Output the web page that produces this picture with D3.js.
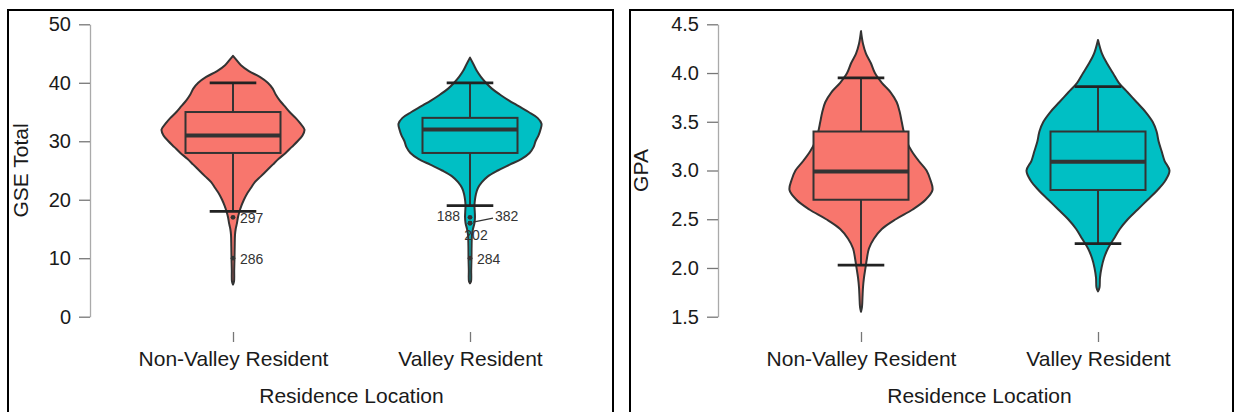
<!DOCTYPE html>
<html>
<head>
<meta charset="utf-8">
<script src="https://cdn.jsdelivr.net/npm/d3@7"></script>
<style>
  html, body { margin: 0; padding: 0; background: #fff; }
  svg { display: block; font-family: "Liberation Sans", Arial, Helvetica, sans-serif; }
</style>
</head>
<body>
<svg id="chart" width="1236" height="412"></svg>
<script>
// ---------------- DATA ----------------
const categories = ["Non-Valley Resident", "Valley Resident"];
const groupColors = ["#F8766D", "#00BFC4"];
const xTitle = "Residence Location";

// GSE Total panel
const gseTitle = "GSE Total";
const gseTicks = [0, 10, 20, 30, 40, 50];
const gseQ1 = [28, 28];
const gseMedian = [31, 32];
const gseQ3 = [35, 34];
const gseWhiskerLow = [18, 19];
const gseWhiskerHigh = [40, 40];
// violin density profiles (value, relative density)
const gseNonValleyVals = [5.5, 6, 8, 10, 12, 14, 15, 16, 17, 18, 19, 20, 21, 22, 23, 24, 25, 26, 27, 28, 29, 30, 31, 32, 33, 34, 35, 36, 37, 38, 39, 40, 41, 42, 43, 44, 44.6];
const gseNonValleyDens = [0, 1, 1.2, 1.5, 1.7, 2, 2.7, 4, 5, 6.5, 8.5, 11, 14, 18, 22, 28, 34, 40, 46, 53, 59, 65, 70, 72, 68, 63, 57, 52, 47, 43, 40, 35, 27, 16, 8, 3, 0];
const gseValleyVals = [5.7, 6, 8, 10, 12, 14, 15, 16, 17, 18, 19, 20, 21, 22, 23, 24, 25, 26, 27, 28, 29, 30, 31, 32, 33, 34, 35, 36, 37, 38, 39, 40, 41, 42, 43, 44.3];
const gseValleyDens = [0, 1, 1.2, 1.5, 1.6, 2, 3, 4.5, 5, 4.8, 4.5, 5, 6, 8, 12, 18, 28, 40, 52, 60, 64, 66, 69, 71, 72, 68, 59, 49, 39, 30, 22, 16, 11, 7, 4, 0];
// labelled outliers
const gseOutlierIds = ["297", "286", "188", "382", "202", "284"];
const gseOutlierVals = [17, 10, 17, 16, 16, 10];
const gseOutlierGroup = [0, 0, 1, 1, 1, 1];

// GPA panel
const gpaTitle = "GPA";
const gpaTicks = [1.5, 2.0, 2.5, 3.0, 3.5, 4.0, 4.5];
const gpaQ1 = [2.7, 2.8];
const gpaMedian = [2.99, 3.09];
const gpaQ3 = [3.4, 3.4];
const gpaWhiskerLow = [2.03, 2.25];
const gpaWhiskerHigh = [3.95, 3.86];
const gpaNonValleyVals = [1.55, 1.6, 1.7, 1.8, 1.9, 2.0, 2.1, 2.2, 2.3, 2.4, 2.5, 2.6, 2.7, 2.8, 2.9, 3.0, 3.1, 3.2, 3.3, 3.4, 3.5, 3.6, 3.7, 3.8, 3.9, 4.0, 4.1, 4.2, 4.3, 4.43];
const gpaNonValleyDens = [0, 1, 1.5, 2, 3, 4.5, 6, 8, 13, 21, 35, 52, 65, 72, 70, 66, 58, 51, 46, 43, 41, 39, 36, 30, 21, 14, 10, 5, 2, 0];
const gpaValleyVals = [1.76, 1.8, 1.9, 2.0, 2.1, 2.2, 2.3, 2.4, 2.5, 2.6, 2.7, 2.8, 2.9, 3.0, 3.1, 3.2, 3.3, 3.4, 3.5, 3.6, 3.7, 3.8, 3.9, 4.0, 4.1, 4.2, 4.34];
const gpaValleyDens = [0, 1.5, 2, 3.5, 6, 10, 16, 22, 30, 40, 50, 60, 68, 72, 67, 64, 61, 59, 55, 48, 39, 30, 21, 15, 9, 4, 0];

// ---------------- LAYOUT ----------------
const svg = d3.select("#chart");
svg.append("rect").attr("width", 1236).attr("height", 412).attr("fill", "#fff");

const plotTop = 24.3, plotBottom = 316.7;
const violinHalf = 71.5, boxHalf = 47.5, capHalf = 23.3;
const stroke = "#333";

// outlier label placement (offsets from the point, px)
const labelLayout = {
  "297": {dx: 7, dy: 1, anchor: "start"},
  "286": {dx: 7, dy: 1, anchor: "start"},
  "188": {dx: -10, dy: -1, anchor: "end"},
  "382": {dx: 25, dy: -7, anchor: "start", leader: [3, -1, 23, -5]},
  "202": {dx: 6, dy: 12, anchor: "middle"},
  "284": {dx: 7, dy: 1, anchor: "start"}
};

const panels = [
  {
    frame: [8, 10, 605], axisX: 90, title: gseTitle, titleX: 27.5,
    ticks: gseTicks, domain: [0, 50], fmt: d3.format("d"),
    q1: gseQ1, med: gseMedian, q3: gseQ3, lo: gseWhiskerLow, hi: gseWhiskerHigh,
    violins: [[gseNonValleyVals, gseNonValleyDens], [gseValleyVals, gseValleyDens]],
    outliers: gseOutlierIds.map((id, i) => ({id, v: gseOutlierVals[i], g: gseOutlierGroup[i]}))
  },
  {
    frame: [630, 10, 603], axisX: 718, title: gpaTitle, titleX: 648,
    ticks: gpaTicks, domain: [1.5, 4.5], fmt: d3.format(".1f"),
    q1: gpaQ1, med: gpaMedian, q3: gpaQ3, lo: gpaWhiskerLow, hi: gpaWhiskerHigh,
    violins: [[gpaNonValleyVals, gpaNonValleyDens], [gpaValleyVals, gpaValleyDens]],
    outliers: []
  }
];

panels.forEach(p => {
  const g = svg.append("g");
  // frame
  g.append("rect")
    .attr("x", p.frame[0]).attr("y", p.frame[1])
    .attr("width", p.frame[2]).attr("height", 430)
    .attr("fill", "none").attr("stroke", "#000").attr("stroke-width", 2);

  const y = d3.scaleLinear().domain(p.domain).range([plotBottom, plotTop]);
  const x = d3.scalePoint().domain(categories).range([p.axisX + 143, p.axisX + 380]);

  // y axis
  const ya = g.append("g").attr("transform", `translate(${p.axisX},0)`)
    .call(d3.axisLeft(y).tickValues(p.ticks).tickFormat(p.fmt).tickSize(11).tickSizeOuter(0).tickPadding(8));
  ya.select(".domain").attr("stroke", "#aaa").attr("stroke-width", 1.3);
  ya.selectAll(".tick line").attr("stroke", "#777").attr("stroke-width", 1.3);
  ya.selectAll(".tick text").attr("font-size", 20).attr("fill", "#1a1a1a").attr("font-family", null);

  // x axis (ticks only)
  const xa = g.append("g").attr("transform", `translate(0,332)`)
    .call(d3.axisBottom(x).tickSize(10).tickPadding(9));
  xa.select(".domain").remove();
  xa.selectAll(".tick line").attr("stroke", "#777").attr("stroke-width", 1.3);
  xa.selectAll(".tick text").attr("font-size", 21).attr("fill", "#1a1a1a").attr("font-family", null);

  // titles
  g.append("text")
    .attr("transform", `translate(${p.titleX},170.5) rotate(-90)`)
    .attr("text-anchor", "middle").attr("font-size", 21).attr("fill", "#1a1a1a")
    .text(p.title);
  g.append("text")
    .attr("x", (x(categories[0]) + x(categories[1])) / 2).attr("y", 403)
    .attr("text-anchor", "middle").attr("font-size", 21).attr("fill", "#1a1a1a")
    .text(xTitle);

  categories.forEach((cat, i) => {
    const cx = x(cat);
    const [vals, dens] = p.violins[i];
    const w = d3.scaleLinear().domain([0, d3.max(dens)]).range([0, violinHalf]);
    const pts = vals.map((v, k) => ({v, d: dens[k]}));
    const area = d3.area()
      .x0(d => cx - w(d.d)).x1(d => cx + w(d.d)).y(d => y(d.v))
      .curve(d3.curveCatmullRom.alpha(0.5));
    g.append("path").attr("d", area(pts))
      .attr("fill", groupColors[i]).attr("stroke", stroke).attr("stroke-width", 2)
      .attr("stroke-linejoin", "round");

    // whiskers
    g.append("line").attr("x1", cx).attr("x2", cx).attr("y1", y(p.q3[i])).attr("y2", y(p.hi[i]))
      .attr("stroke", stroke).attr("stroke-width", 2);
    g.append("line").attr("x1", cx).attr("x2", cx).attr("y1", y(p.q1[i])).attr("y2", y(p.lo[i]))
      .attr("stroke", stroke).attr("stroke-width", 2);
    // box
    g.append("rect").attr("x", cx - boxHalf).attr("width", boxHalf * 2)
      .attr("y", y(p.q3[i])).attr("height", y(p.q1[i]) - y(p.q3[i]))
      .attr("fill", groupColors[i]).attr("stroke", stroke).attr("stroke-width", 2);
    // median
    g.append("line").attr("x1", cx - boxHalf).attr("x2", cx + boxHalf)
      .attr("y1", y(p.med[i])).attr("y2", y(p.med[i]))
      .attr("stroke", stroke).attr("stroke-width", 4);
    // caps
    [p.lo[i], p.hi[i]].forEach(v => {
      g.append("line").attr("x1", cx - capHalf).attr("x2", cx + capHalf)
        .attr("y1", y(v)).attr("y2", y(v))
        .attr("stroke", "#222").attr("stroke-width", 2.8);
    });
  });

  // outliers
  p.outliers.forEach(o => {
    const cx = x(categories[o.g]), cy = y(o.v);
    g.append("circle").attr("cx", cx).attr("cy", cy).attr("r", 2.4).attr("fill", stroke);
    const L = labelLayout[o.id];
    if (L.leader) {
      g.append("line")
        .attr("x1", cx + L.leader[0]).attr("y1", cy + L.leader[1])
        .attr("x2", cx + L.leader[2]).attr("y2", cy + L.leader[3])
        .attr("stroke", stroke).attr("stroke-width", 1.2);
    }
    g.append("text").attr("x", cx + L.dx).attr("y", cy + L.dy).attr("dy", "0.35em")
      .attr("text-anchor", L.anchor).attr("font-size", 14).attr("fill", stroke)
      .text(o.id);
  });
});
</script>
</body>
</html>
